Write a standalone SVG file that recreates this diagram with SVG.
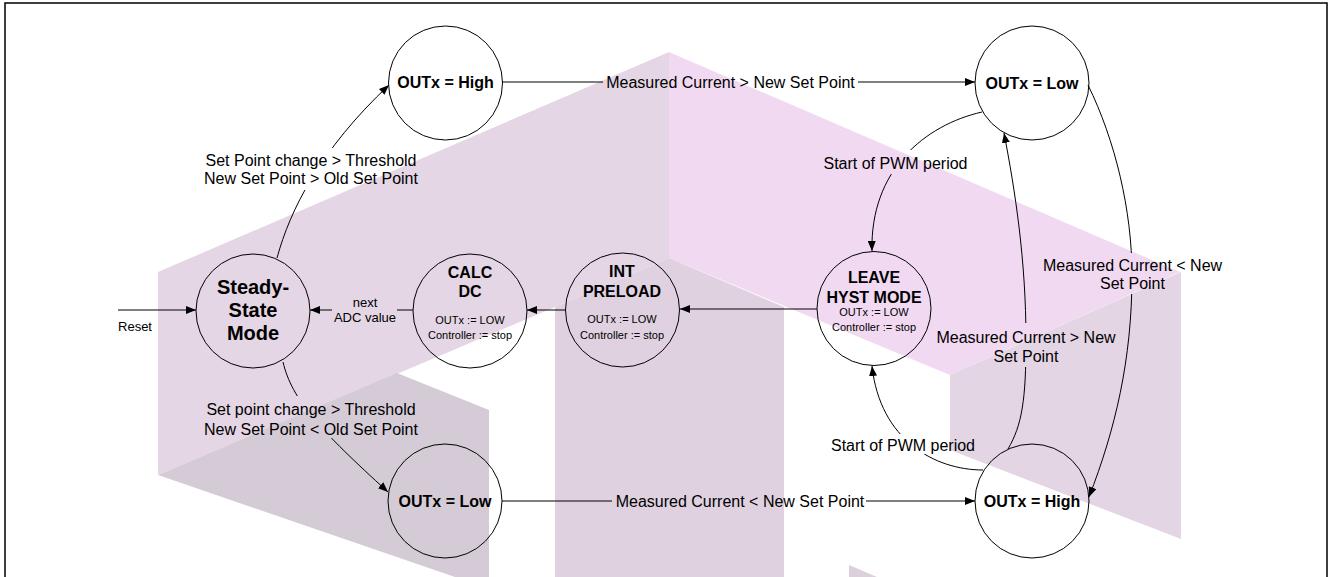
<svg xmlns="http://www.w3.org/2000/svg" width="1330" height="577" viewBox="0 0 1330 577">
<style>
.node{fill:none;stroke:#000;stroke-width:1}
.con{fill:none;stroke:#000;stroke-width:1}
text{font-family:"Liberation Sans",Arial,sans-serif;fill:#000;text-anchor:middle}
.b{font-weight:bold;font-size:16px}
.big{font-weight:bold;font-size:20px}
.l{font-size:16px}
.s{font-size:11px}
.m{font-size:13px}
</style>
<defs>
<marker id="ah" markerWidth="10" markerHeight="8" refX="10" refY="4" orient="auto" markerUnits="userSpaceOnUse"><path d="M0,0 L10,4 L0,8 z" fill="#000"/></marker>
<mask id="gap" maskUnits="userSpaceOnUse" x="0" y="0" width="1330" height="577">
<rect x="0" y="0" width="1330" height="577" fill="#fff"/>
<rect x="603" y="72" width="255" height="22" fill="#000"/>
<rect x="612" y="491" width="254" height="21" fill="#000"/>
<rect x="332" y="296" width="65" height="32" fill="#000"/>
<rect x="200" y="148" width="220" height="42" fill="#000"/>
<rect x="200" y="396" width="220" height="42" fill="#000"/>
<rect x="815" y="150" width="160" height="24" fill="#000"/>
<rect x="828" y="434" width="150" height="20" fill="#000"/>
<rect x="1040" y="253" width="185" height="41" fill="#000"/>
<rect x="935" y="323" width="183" height="44" fill="#000"/>
</mask>
</defs>
<g id="watermark" stroke="none">
<polygon points="158,272 669,52 669,258 555,307 158,475" fill="#e4d6e4"/>
<polygon points="669,52 1180,272 950,375 669,258" fill="#f2d9f2"/>
<polygon points="555,307 669,258 784,307 784,577 555,577" fill="#dfd1df"/>
<polygon points="158,475 397,373 489,410 489,577 455,577" fill="#d5cbd7"/>
<polygon points="950,375 1181,272 1181,539 950,450" fill="#e3d5e3"/>
<polygon points="849,565 877,577 849,577" fill="#dcd0dc"/>
</g>
<rect x="5" y="3" width="1322" height="600" fill="none" stroke="#000" stroke-width="1.5"/>
<g id="connectors" mask="url(#gap)">
<line class="con" x1="118" y1="310" x2="196" y2="310" marker-end="url(#ah)"/>
<line class="con" x1="413" y1="310" x2="310" y2="310" marker-end="url(#ah)"/>
<line class="con" x1="566" y1="310" x2="527" y2="310" marker-end="url(#ah)"/>
<line class="con" x1="817" y1="309" x2="680" y2="309" marker-end="url(#ah)"/>
<line class="con" x1="502" y1="82" x2="975" y2="82" marker-end="url(#ah)"/>
<line class="con" x1="502" y1="501" x2="975" y2="501" marker-end="url(#ah)"/>
<path class="con" d="M277,258 C290,210 320,150 389,85" marker-end="url(#ah)"/>
<path class="con" d="M283,362 C292,400 320,430 388,492" marker-end="url(#ah)"/>
<path class="con" d="M982,112 C925,125 870,170 872,251" marker-end="url(#ah)"/>
<path class="con" d="M983,470 C935,470 880,440 872,366" marker-end="url(#ah)"/>
<path class="con" d="M1088,85 C1115,140 1132,210 1132,275 C1132,360 1115,430 1089,497" marker-end="url(#ah)"/>
<path class="con" d="M1008,449 C1022,425 1026,400 1026,340 C1026,260 1015,190 1004,133" marker-end="url(#ah)"/>
</g>
<g id="connector-labels">
<text class="m" x="135" y="331">Reset</text>
<text class="m" x="365" y="307">next</text>
<text class="m" x="365" y="322">ADC value</text>
<text class="l" x="730.5" y="88">Measured Current &gt; New Set Point</text>
<text class="l" x="740" y="507">Measured Current &lt; New Set Point</text>
<text class="l" x="311" y="166">Set Point change &gt; Threshold</text>
<text class="l" x="311" y="184">New Set Point &gt; Old Set Point</text>
<text class="l" x="311" y="415">Set point change &gt; Threshold</text>
<text class="l" x="311" y="434.5">New Set Point &lt; Old Set Point</text>
<text class="l" x="895.5" y="169">Start of PWM period</text>
<text class="l" x="903" y="451">Start of PWM period</text>
<text class="l" x="1132.5" y="271">Measured Current &lt; New</text>
<text class="l" x="1132.5" y="289">Set Point</text>
<text class="l" x="1026" y="343">Measured Current &gt; New</text>
<text class="l" x="1026" y="362">Set Point</text>
</g>
<g id="node-high-top">
<circle class="node" cx="445.5" cy="83" r="57"/>
<text class="b" x="445.5" y="88">OUTx = High</text>
</g>
<g id="node-low-top">
<circle class="node" cx="1032" cy="83" r="57"/>
<text class="b" x="1032" y="88.5">OUTx = Low</text>
</g>
<g id="node-steady">
<circle class="node" cx="253" cy="311" r="57"/>
<text class="big" x="253" y="294">Steady-</text>
<text class="big" x="253" y="317">State</text>
<text class="big" x="253" y="340">Mode</text>
</g>
<g id="node-calc">
<circle class="node" cx="470" cy="311" r="57"/>
<text class="b" x="470" y="278">CALC</text>
<text class="b" x="470" y="297">DC</text>
<text class="s" x="470" y="324">OUTx := LOW</text>
<text class="s" x="470" y="339">Controller := stop</text>
</g>
<g id="node-int">
<circle class="node" cx="622.5" cy="310" r="57"/>
<text class="b" x="622" y="277">INT</text>
<text class="b" x="622" y="297">PRELOAD</text>
<text class="s" x="622" y="323">OUTx := LOW</text>
<text class="s" x="622" y="339">Controller := stop</text>
</g>
<g id="node-leave">
<circle class="node" cx="874" cy="308.5" r="57"/>
<text class="b" x="874" y="283">LEAVE</text>
<text class="b" x="874" y="303">HYST MODE</text>
<text class="s" x="874" y="316">OUTx := LOW</text>
<text class="s" x="874" y="331">Controller := stop</text>
</g>
<g id="node-low-bottom">
<circle class="node" cx="445" cy="501" r="57"/>
<text class="b" x="445" y="507">OUTx = Low</text>
</g>
<g id="node-high-bottom">
<circle class="node" cx="1032" cy="501" r="57"/>
<text class="b" x="1032" y="507">OUTx = High</text>
</g>
</svg>
